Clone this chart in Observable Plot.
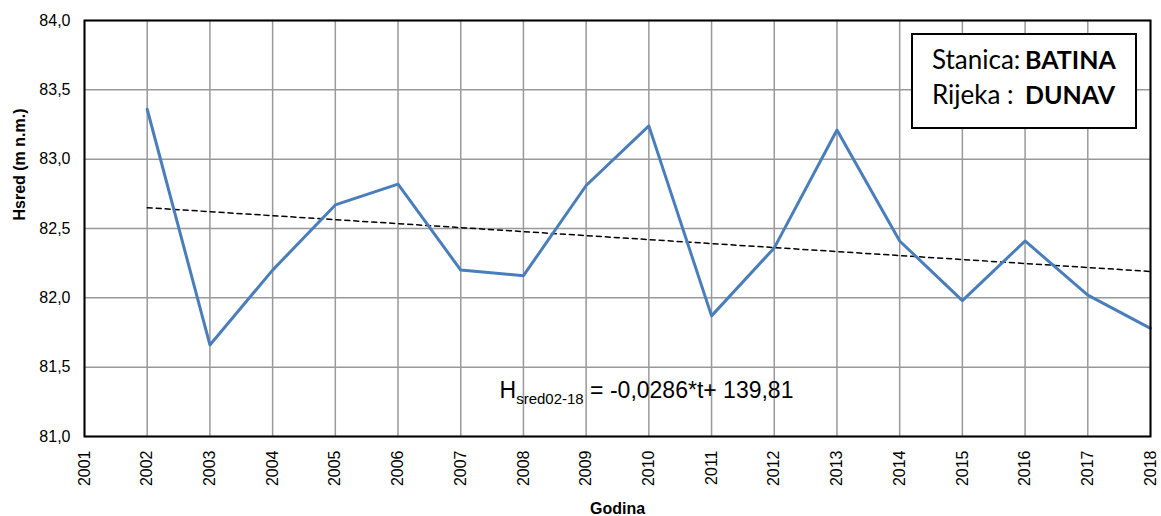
<!DOCTYPE html>
<html><head><meta charset="utf-8">
<script src="https://cdn.jsdelivr.net/npm/d3@7"></script>
<script src="https://cdn.jsdelivr.net/npm/@observablehq/plot@0.6"></script>
<style>
body{margin:0;background:#fff;}
#chart{position:relative;width:1161px;height:516px;overflow:hidden;}
#legend{position:absolute;left:911px;top:33px;width:226px;height:96px;box-sizing:border-box;border:2px solid #000;background:#fff;padding:7px 0 0 19px;
 font-family:Lato,"Open Sans",sans-serif;font-size:26px;color:#000;display:grid;grid-template-columns:93px auto;align-content:start;column-gap:0;row-gap:0;line-height:35px;}
#legend .k{text-align:left;}
#legend .v{font-weight:bold;font-size:25px;}
</style></head>
<body><div id="chart"><div id="legend"></div></div>
<script>
const years = [2002,2003,2004,2005,2006,2007,2008,2009,2010,2011,2012,2013,2014,2015,2016,2017,2018];
const hsred = [83.36,81.66,82.20,82.67,82.82,82.20,82.16,82.81,83.24,81.87,82.36,83.21,82.41,81.98,82.41,82.02,81.78];
const trendYears = [2002, 2018];
const trendValues = [82.65, 82.19];
const xTicks = [2001,2002,2003,2004,2005,2006,2007,2008,2009,2010,2011,2012,2013,2014,2015,2016,2017,2018];
const xTickLabels = ["2001","2002","2003","2004","2005","2006","2007","2008","2009","2010","2011","2012","2013","2014","2015","2016","2017","2018"];
const yTicks = [81.0,81.5,82.0,82.5,83.0,83.5,84.0];
const yTickLabels = ["81,0","81,5","82,0","82,5","83,0","83,5","84,0"];
const xTitle = "Godina";
const yTitle = "Hsred (m n.m.)";
const eqMain = "H", eqSub = "sred02-18", eqRest = " = -0,0286*t+ 139,81";
const legendKeys = ["Stanica:", "Rijeka :"];
const legendValues = ["BATINA", "DUNAV"];

const series = years.map((y,i)=>({year:y, h:hsred[i]}));
const trend = trendYears.map((y,i)=>({year:y, h:trendValues[i]}));

const chart = Plot.plot({
  width: 1161, height: 516,
  marginLeft: 84, marginRight: 11, marginTop: 20, marginBottom: 80,
  style: {fontFamily: "Arial, 'Liberation Sans', sans-serif", background: "#fff", color: "#000"},
  x: {type: "linear", domain: [2001, 2018]},
  y: {domain: [81, 84]},
  marks: [
    Plot.gridX(xTicks, {stroke: "#999", strokeOpacity: 1, strokeWidth: 1.5}),
    Plot.gridY(yTicks, {stroke: "#999", strokeOpacity: 1, strokeWidth: 1.5}),
    Plot.axisX(xTicks, {tickSize: 0, tickPadding: 14, tickRotate: -90, fontSize: 16, label: null,
      tickFormat: d => xTickLabels[xTicks.indexOf(d)]}),
    Plot.axisY(yTicks, {tickSize: 0, tickPadding: 14, fontSize: 16, label: null,
      tickFormat: d => yTickLabels[yTicks.indexOf(d)]}),
    Plot.line(trend, {x: "year", y: "h", stroke: "#000", strokeWidth: 1.5, strokeDasharray: "5,4"}),
    Plot.line(series, {x: "year", y: "h", stroke: "#4a7ebb", strokeWidth: 3}),
    Plot.frame({stroke: "#000", strokeWidth: 2}),
    Plot.text([xTitle], {frameAnchor: "bottom", dy: 77, fontSize: 16, fontWeight: "bold"}),
    Plot.text([yTitle], {frameAnchor: "left", dx: -65, dy: -8, rotate: -90, fontSize: 16, fontWeight: "bold"}),
    Plot.text([eqMain + eqSub + eqRest], {frameAnchor: "bottom", dx: 29, dy: -39, fontSize: 23, className: "eqn"})
  ]
});
document.getElementById("chart").prepend(chart);

const t = d3.select(chart).select(".eqn text");
t.text(null);
t.append("tspan").text(eqMain);
t.append("tspan").attr("font-size", 15).attr("dy", 6).text(eqSub);
t.append("tspan").attr("dy", -6).text(eqRest);

const lg = d3.select("#legend");
legendKeys.forEach((k,i)=>{
  lg.append("div").attr("class","k").text(k);
  lg.append("div").attr("class","v").text(legendValues[i]);
});
</script>
</body></html>
